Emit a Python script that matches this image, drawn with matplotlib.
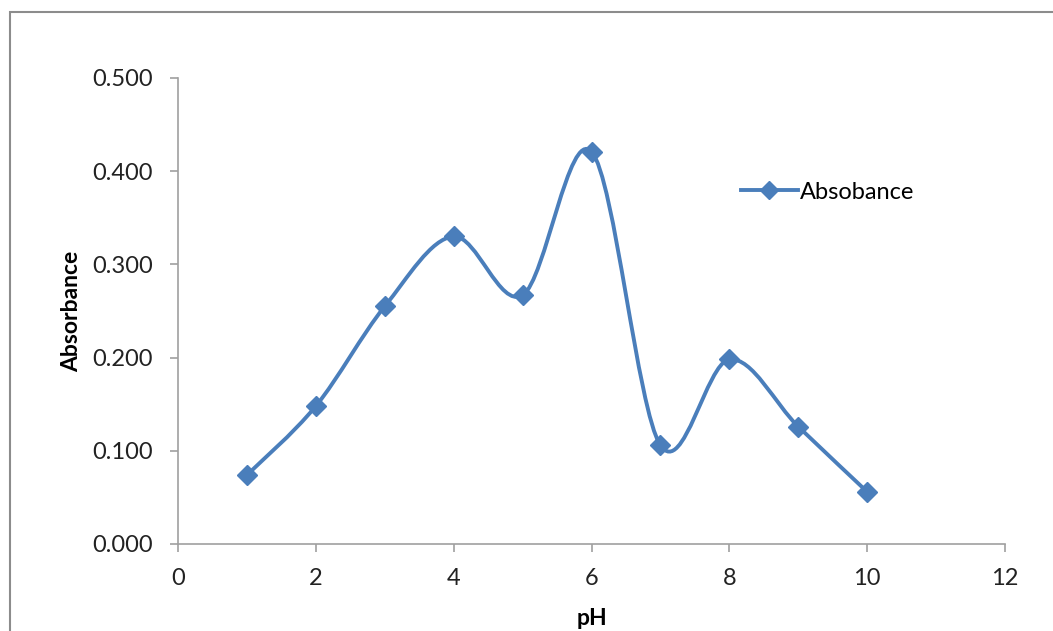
import matplotlib.pyplot as plt
from matplotlib.path import Path
from matplotlib.patches import PathPatch, Rectangle
from matplotlib.lines import Line2D

plt.rcParams['font.family'] = ['Lato', 'DejaVu Sans']

# ==================== 数据 ====================
ph = [1, 2, 3, 4, 5, 6, 7, 8, 9, 10]
absorbance = [0.074, 0.148, 0.255, 0.330, 0.267, 0.421, 0.106, 0.198, 0.126, 0.056]
x_ticks = [0, 2, 4, 6, 8, 10, 12]
y_ticks = [0.0, 0.1, 0.2, 0.3, 0.4, 0.5]

LINE_COLOR = '#4A7EBB'
AXIS_COLOR = '#A0A0A0'


def smooth_path(xs, ys):
    """Excel 风格平滑曲线（三次贝塞尔）"""
    pts = list(zip(xs, ys))
    verts = [pts[0]]
    codes = [Path.MOVETO]
    n = len(pts)
    for i in range(n - 1):
        p0 = pts[i - 1] if i > 0 else pts[i]
        p1 = pts[i]
        p2 = pts[i + 1]
        p3 = pts[i + 2] if i + 2 < n else pts[i + 1]
        c1 = (p1[0] + (p2[0] - p0[0]) / 6, p1[1] + (p2[1] - p0[1]) / 6)
        c2 = (p2[0] - (p3[0] - p1[0]) / 6, p2[1] - (p3[1] - p1[1]) / 6)
        verts += [c1, c2, p2]
        codes += [Path.CURVE4] * 3
    return Path(verts, codes)


fig = plt.figure(figsize=(10.53, 6.31), dpi=100)
ax = fig.add_axes([178 / 1053, 1 - 544 / 631, (1005 - 178) / 1053, (544 - 78) / 631])

# 外框
fig.patches.append(Rectangle((10 / 1053, -0.5), 2, 0.5 + 1 - 12 / 631,
                             transform=fig.transFigure, fill=False,
                             edgecolor='#8C8C8C', linewidth=1.5))

ax.add_patch(PathPatch(smooth_path(ph, absorbance), facecolor='none',
                       edgecolor=LINE_COLOR, linewidth=2.8, zorder=3))
ax.plot(ph, absorbance, linestyle='none', marker='D', markersize=10,
        color=LINE_COLOR, zorder=4)

ax.set_xlim(0, 12)
ax.set_ylim(0, 0.5)
ax.set_xticks(x_ticks)
ax.set_yticks(y_ticks)
ax.set_yticklabels([f'{v:.3f}' for v in y_ticks])

for side in ['top', 'right']:
    ax.spines[side].set_visible(False)
for side in ['left', 'bottom']:
    ax.spines[side].set_color(AXIS_COLOR)
    ax.spines[side].set_linewidth(1.2)
ax.tick_params(direction='out', length=6, width=1.2, color=AXIS_COLOR,
               labelsize=17, labelcolor='#222222', pad=11)
ax.tick_params(axis='y', pad=12)

ax.set_xlabel('pH', fontsize=16.5, fontweight='bold', labelpad=14)
ax.set_ylabel('Absorbance', fontsize=16.5, fontweight='bold', labelpad=7)

handle = Line2D([], [], color=LINE_COLOR, linewidth=2.8, marker='D', markersize=9)
ax.legend([handle], ['Absobance'], loc='center left', bbox_to_anchor=(0.655, 0.755),
          frameon=False, fontsize=17, handlelength=2.4, handletextpad=0.1)

fig.savefig('out.png', dpi=100)
